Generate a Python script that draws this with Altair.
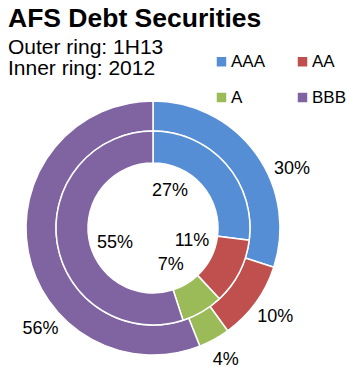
import altair as alt
import pandas as pd

TITLE = "AFS Debt Securities"
SUBTITLE = "Outer ring: 1H13\nInner ring: 2012"

categories = ["AAA", "AA", "A", "BBB"]
outer_1h13 = [30, 10, 4, 56]
inner_2012 = [27, 11, 7, 55]
colors = ["#558ED5", "#C0504D", "#9BBB59", "#8064A2"]

rows = []
for i, c in enumerate(categories):
    rows.append({"rating": c, "order": i, "ring": "outer",
                 "value": outer_1h13[i], "label": f"{outer_1h13[i]}%"})
    rows.append({"rating": c, "order": i, "ring": "inner",
                 "value": inner_2012[i], "label": f"{inner_2012[i]}%"})
df = pd.DataFrame(rows)

FONT = "Liberation Sans"
CX, CY = 153, 228

# legend fills column by column: order the domain so rows read AAA, AA / A, BBB
legend_order = [categories[0], categories[2], categories[1], categories[3]]
cmap = dict(zip(categories, colors))

color = alt.Color(
    "rating:N",
    scale=alt.Scale(domain=legend_order, range=[cmap[c] for c in legend_order]),
    legend=alt.Legend(
        orient="none", legendX=213, legendY=53, columns=2,
        symbolType="square", symbolSize=90, symbolStrokeWidth=0,
        labelFontSize=17, labelFont=FONT, labelColor="black",
        labelOffset=1, columnPadding=28, rowPadding=18, padding=0,
        labelLimit=80, title=None,
    ),
)

base = alt.Chart(df).encode(
    theta=alt.Theta("value:Q", stack=True),
    order=alt.Order("order:Q"),
    x=alt.value(CX),
    y=alt.value(CY),
)

outer = base.transform_filter("datum.ring == 'outer'").mark_arc(
    radius=127, radius2=97, stroke="white", strokeWidth=1.5
).encode(color=color)
inner = base.transform_filter("datum.ring == 'inner'").mark_arc(
    radius=97, radius2=65, stroke="white", strokeWidth=1.5
).encode(color=color)

# label nudges (degrees) away from the slice middle, as placed in the original
outer_nudge = {"AAA": 13, "BBB": -31}
inner_nudge = {"AAA": -24, "AA": -9, "A": 5, "BBB": -13}


def nudge_expr(d):
    expr = "0"
    for k, v in d.items():
        expr = f"datum.rating == '{k}' ? {v} : ({expr})"
    return expr


def label_layer(ring, radius, nudges):
    return alt.Chart(df).transform_filter(
        f"datum.ring == '{ring}'"
    ).transform_joinaggregate(
        total="sum(value)"
    ).transform_window(
        cum="sum(value)", sort=[alt.SortField("order")], frame=[None, 0]
    ).transform_calculate(
        ang=f"(datum.cum - datum.value / 2) / datum.total * 2 * PI + ({nudge_expr(nudges)}) * PI / 180"
    ).mark_text(
        radius=radius, fontSize=18, font=FONT, color="black"
    ).encode(
        theta=alt.Theta("ang:Q", scale=None, stack=False),
        text="label:N",
        x=alt.value(CX),
        y=alt.value(CY),
    )


outer_txt = label_layer("outer", 151, outer_nudge)
inner_txt = label_layer("inner", 41, inner_nudge)

title = alt.Chart(pd.DataFrame({"t": [TITLE]})).mark_text(
    align="left", baseline="alphabetic", fontSize=26.5, fontWeight="bold",
    font=FONT, color="black"
).encode(x=alt.value(8), y=alt.value(27), text="t:N")

subtitle = alt.Chart(pd.DataFrame({"t": [SUBTITLE]})).mark_text(
    align="left", baseline="alphabetic", fontSize=21, font=FONT,
    color="black", lineBreak="\n", lineHeight=21
).encode(x=alt.value(8), y=alt.value(53.5), text="t:N")

chart = alt.layer(outer, inner, outer_txt, inner_txt, title, subtitle).properties(
    width=347, height=367,
    autosize=alt.AutoSizeParams(type="none"),
    padding=0,
    background="white",
).configure_view(strokeWidth=0)

chart.save("out.html", embed_options={"renderer": "svg", "actions": False})
